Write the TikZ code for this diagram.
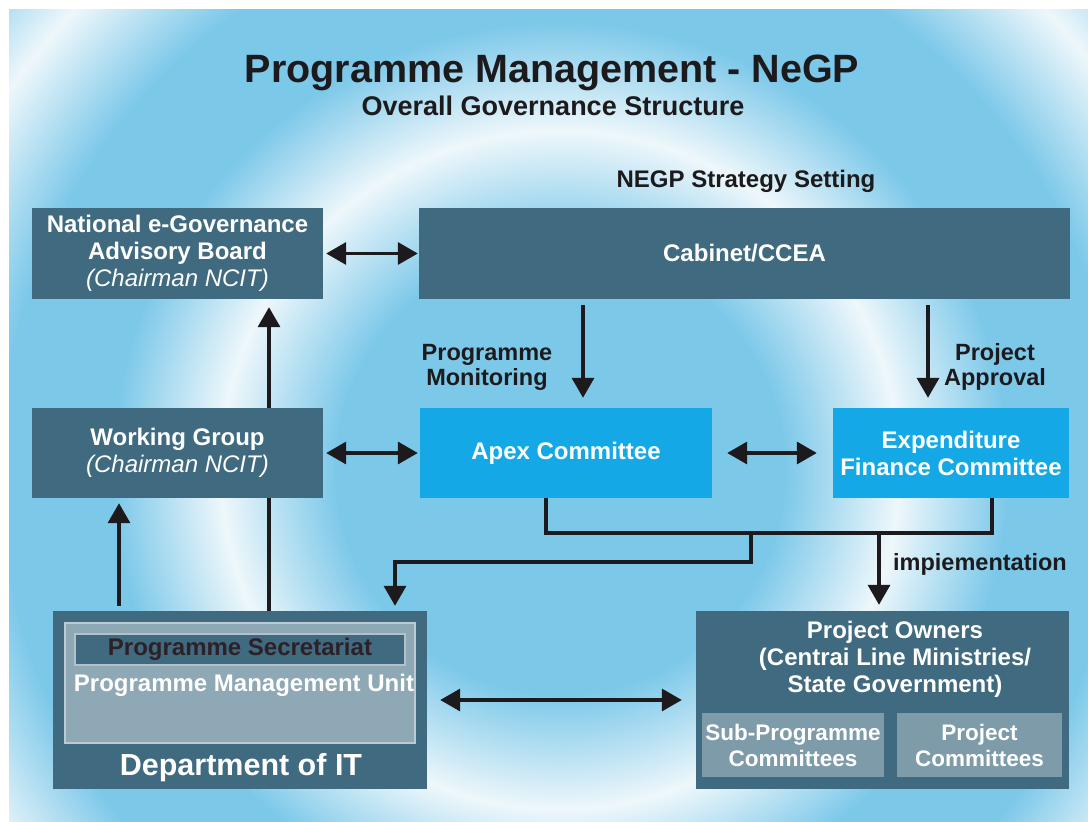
\documentclass[tikz,border=0pt]{standalone}
\usepackage{fontspec}
\setmainfont{Liberation Sans}
\usetikzlibrary{arrows.meta}

\definecolor{bgblue}{RGB}{124,200,233}
\definecolor{bgwhite}{RGB}{238,247,251}
\definecolor{boxdark}{RGB}{63,106,128}
\definecolor{apexblue}{RGB}{20,169,230}
\definecolor{pmugrey}{RGB}{143,168,181}
\definecolor{subgrey}{RGB}{126,155,170}
\definecolor{wirecol}{RGB}{28,26,28}
\definecolor{sectext}{RGB}{45,32,38}

\pgfdeclareradialshading{ripple}{\pgfpoint{0bp}{0bp}}{color(0bp)=(bgblue); color(7bp)=(bgblue); color(10.6bp)=(bgwhite); color(14bp)=(bgblue); color(17.5bp)=(bgblue); color(20.9bp)=(bgwhite); color(24bp)=(bgblue); color(25.5bp)=(bgblue); color(28.4bp)=(bgwhite); color(31.5bp)=(bgblue); color(32.5bp)=(bgblue); color(35.3bp)=(bgwhite); color(39bp)=(bgblue); color(71bp)=(bgblue)}

\begin{document}
\begin{tikzpicture}[x=1pt,y=-1pt,
  box/.style={fill=boxdark, text=white, inner sep=0pt, align=center, font=\bfseries\fontsize{24}{27}\selectfont},
  subbox/.style={fill=subgrey, text=white, inner sep=0pt, align=center, font=\bfseries\fontsize{22.5}{26}\selectfont},
  tag/.style={text=wirecol, inner sep=0pt, align=center, font=\bfseries\fontsize{23.5}{25}\selectfont},
  wire/.style={draw=wirecol, line width=3.5pt},
  arr/.style={wire, -{Triangle[length=20pt,width=22pt]}},
  dbl/.style={wire, {Triangle[length=20pt,width=22pt]}-{Triangle[length=20pt,width=22pt]}}]

\useasboundingbox (0,0) rectangle (1088,822);

% background ripples
\fill[bgblue] (9,9) rectangle (1088,822);
\begin{scope}
\clip (9,9) rectangle (1088,822);
\shade[shading=ripple] (-240,-330) rectangle (1360,1270);
\end{scope}

\node[tag, anchor=base, font=\bfseries\fontsize{39.5}{44}\selectfont] (title) at (552,82) {Programme Management - NeGP};
\node[tag, anchor=base, font=\bfseries\fontsize{27}{30}\selectfont] (subtitle) at (553,115) {Overall Governance Structure};
\node[tag, anchor=base, font=\bfseries\fontsize{24}{27}\selectfont] (strategy) at (746,187) {NEGP Strategy Setting};

\node[box, minimum width=291, minimum height=91] (negab) at (177.5,253.5) {National e-Governance\\Advisory Board\\{\mdseries\itshape (Chairman NCIT)}};
\node[box, minimum width=651, minimum height=91] (cabinet) at (744.5,253.5) {Cabinet/CCEA};
\node[box, minimum width=291, minimum height=90] (wg) at (177.5,453) {Working Group\\{\mdseries\itshape (Chairman NCIT)}};
\node[box, fill=apexblue, minimum width=292, minimum height=90] (apex) at (566,453) {Apex Committee};
\node[box, fill=apexblue, minimum width=236, minimum height=90] (efc) at (951,453) {Expenditure\\Finance Committee};

\node[tag] (monitoring) at (487,367) {Programme\\Monitoring};
\node[tag] (approval) at (995,367) {Project\\Approval};

% department of IT
\node[box, minimum width=374, minimum height=178] (deptit) at (240,700) {};
\node[box, fill=pmugrey, draw=pmugrey!60!white, line width=1.5pt, minimum width=350, minimum height=120] (pmu) at (240,683) {};
\node[box, text=sectext, draw=pmugrey!70!white, line width=1.5pt, minimum width=330, minimum height=31] (secretariat) at (240,649.5) {Programme Secretariat};
\node[box, fill=none] (pmulabel) at (244,685) {Programme Management Unit};
\node[box, fill=none, anchor=base, font=\bfseries\fontsize{30.5}{34}\selectfont] (deptlabel) at (241,775) {Department of IT};

% project owners
\node[box, minimum width=373, minimum height=178] (owners) at (882.5,700) {};
\node[box, fill=none] (ownerstext) at (895,659) {Project Owners\\(Centrai Line Ministries/\\State Government)};
\node[subbox, minimum width=182, minimum height=64] (subprog) at (793,745) {Sub-Programme\\Committees};
\node[subbox, minimum width=165, minimum height=64] (projcomm) at (979.5,745) {Project\\Committees};

\draw[dbl, shorten <=3pt, shorten >=1pt] (negab) -- (cabinet);
\draw[arr, shorten >=8pt] ([xshift=91.5pt]wg.north) -- ([xshift=91.5pt]wg.north |- negab.south);
\draw[arr, shorten <=6pt, shorten >=10pt] ([xshift=17pt]apex.north |- cabinet.south) -- ([xshift=17pt]apex.north);
\draw[arr, shorten <=6pt, shorten >=10pt] ([xshift=-23pt]efc.north |- cabinet.south) -- ([xshift=-23pt]efc.north);
\draw[dbl, shorten <=3pt, shorten >=2pt] (wg) -- (apex);
\draw[dbl, shorten <=15pt, shorten >=16pt] (apex) -- (efc);
\draw[arr, shorten <=5pt, shorten >=5pt] ([xshift=-121pt]deptit.north) -- ([xshift=-121pt]deptit.north |- wg.south);
\draw[wire] ([xshift=29pt]deptit.north) -- ([xshift=29pt]deptit.north |- wg.south);

\coordinate (busright) at (992,533);
\coordinate (branch) at (751,562);
\draw[wire] ([xshift=-20pt]apex.south) |- (busright) -- ([xshift=41pt]efc.south);
\draw[arr, shorten >=6pt] ([xshift=-3.5pt]owners.north |- busright) -- ([xshift=-3.5pt]owners.north);
\node[tag, anchor=base] (implementation) at (980,570) {impiementation};
\draw[arr, shorten >=5pt] (branch |- busright) -- (branch) -| ([xshift=155pt]deptit.north);
\draw[dbl, shorten <=13pt, shorten >=14pt] (deptit) -- (owners);

\end{tikzpicture}
\end{document}
